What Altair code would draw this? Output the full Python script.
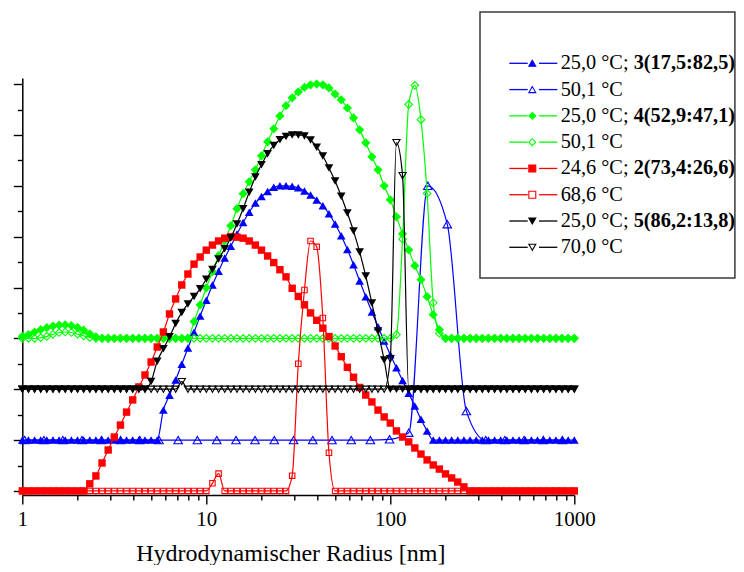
import altair as alt
import pandas as pd

# ---------------- data ----------------
# hydrodynamic radius bins (nm): 30 bins per decade, 1 ... 1000 nm
MANTISSA = [1.000, 1.080, 1.166, 1.259, 1.359, 1.468, 1.585, 1.711, 1.848, 1.995,
            2.154, 2.326, 2.512, 2.712, 2.929, 3.162, 3.415, 3.687, 3.981, 4.299,
            4.642, 5.012, 5.412, 5.843, 6.310, 6.813, 7.356, 7.943, 8.577, 9.261]
RADIUS = [round(m * d, 3) for d in (1, 10, 100) for m in MANTISSA] + [1000.0]

# normalised intensity (% of maximum) on RADIUS bins
BLUE_25 = [0] * 23 + [11.8, 17.6, 23.6, 29.8, 36.2, 42.4, 48.8, 55.0, 61.0, 66.4,
                      71.6, 76.2, 81.0, 85.6, 89.6, 93.2, 95.8, 97.8, 99.4, 100.0,
                      100.0, 99.8, 99.2, 98.0, 96.4, 94.4, 92.2, 89.0, 85.0, 80.4,
                      75.0, 69.0, 62.6, 56.4, 50.4, 44.6, 39.0, 33.6, 28.4, 23.4,
                      18.4, 13.4, 8.2, 3.6] + [0] * 24

GREEN_25 = [0.8, 1.5, 2.5, 3.4, 4.2, 4.8, 5.2, 5.3, 5.0, 4.3, 3.2, 1.8, 0.6] + [0] * 15 + \
           [6.6, 13.2, 19.9, 26.2, 32.5, 38.4, 44.3, 51.0, 56.9, 61.6,
            66.3, 71.8, 77.3, 82.4, 87.5, 91.5, 94.6, 96.9, 98.7, 99.7,
            100.0, 99.7, 98.5, 96.1, 93.8, 90.6, 86.7, 82.0, 76.9, 71.4,
            66.3, 60.0, 54.5, 47.8, 41.1, 34.8, 28.6, 23.1, 16.4, 9.3,
            3.4] + [0] * 22

GREEN_50 = [0, 0, 0, 0.3, 0.8, 1.6, 2.3, 2.5, 2.3, 1.7, 1.0, 0.4] + [0] * 49 + \
           [1.5, 39.0, 92.0, 99.5, 86.0, 57.0, 14.0, 2.0] + [0] * 22

RED_24 = [0] * 11 + [2.8, 5.9, 11.0, 16.1, 21.2, 25.9, 31.0, 35.8, 40.9, 45.6,
                     50.7, 56.6, 62.5, 69.6, 75.5, 81.0, 85.3, 89.2, 92.0, 94.7,
                     96.7, 98.3, 99.4, 100.0, 99.8, 99.4, 98.3, 96.7, 94.7, 92.4,
                     89.8, 87.0, 84.2, 79.7, 76.5, 73.2, 70.0, 67.1, 64.0, 60.7,
                     57.0, 52.8, 48.6, 44.7, 40.7, 37.7, 35.0, 31.8, 29.1, 26.7,
                     23.6, 21.2, 19.3, 16.9, 14.5, 12.2, 10.2, 8.6, 6.7, 5.1,
                     3.5, 1.6] + [0] * 18

RED_68 = [0] * 31 + [3.0, 6.8] + [0] * 11 + [6.0, 50.0, 79.0, 98.3, 96.0, 68.0, 15.0] + [0] * 40

BLACK_25 = [0] * 21 + [3.0, 11.0, 15.9, 20.6, 25.8, 30.2, 33.5, 36.5, 39.5, 43.3,
                       47.1, 51.2, 55.2, 59.5, 65.0, 71.0, 77.5, 83.5, 88.3, 92.6,
                       95.9, 98.1, 99.4, 100.0, 100.0, 99.6, 98.0, 95.2, 91.7, 87.0,
                       81.9, 75.9, 69.3, 62.2, 54.0, 44.5, 33.9, 22.9, 11.5] + [0] * 31

BLACK_70 = [0] * 26 + [3.0] + [0] * 33 + [12.0, 97.0, 84.0] + [0] * 28

# blue 50.1 °C: measured points and its smoothed curve
BLUE_50_R = [1.03, 1.31, 1.66, 2.11, 2.69, 3.42, 4.35, 5.53, 7.03, 8.94, 11.4, 14.5, 18.4,
             23.4, 29.8, 37.9, 48.2, 61.3, 77.9, 99.1, 126.0, 160.0, 204.0, 259.0, 330.0,
             419.0, 533.0, 678.0, 862.0]
BLUE_50 = [0] * 19 + [0.3, 2.9, 100.0, 84.9, 11.4] + [0] * 5
BLUE_50_CURVE_R = [1.0, 106.1, 112.9, 120.2, 128.0, 134.5, 141.4, 148.7, 156.3, 164.4, 170.7,
                   177.2, 186.3, 198.3, 211.1, 224.7, 239.2, 254.7, 271.2, 288.6, 307.3,
                   335.4, 370.7, 1000.0]
BLUE_50_CURVE = [0, 0, 0.8, 2.4, 7.1, 15.7, 29.5, 49.1, 70.0, 84.1, 88.4, 89.2, 87.6, 81.3,
                 69.9, 55.0, 38.1, 23.6, 12.6, 5.9, 2.4, 0.4, 0, 0]

# vertical offsets of the curves (%)
OFFSET_RED = 0
OFFSET_BLUE = 20
OFFSET_BLACK = 40
OFFSET_GREEN = 60

LEGEND_TEXT = ["25,0 °C;", "50,1 °C", "25,0 °C;", "50,1 °C",
               "24,6 °C;", "68,6 °C", "25,0 °C;", "70,0 °C"]
LEGEND_BOLD = ["3(17,5:82,5)", "", "4(52,9:47,1)", "",
               "2(73,4:26,6)", "", "5(86,2:13,8)", ""]

# ---------------- styles ----------------
BLUE, GREEN, RED, BLACK = "#0000ff", "#00ff00", "#ff0000", "#000000"
FONT = "Liberation Serif"

SERIES = [
    dict(r=RADIUS, v=BLUE_25, off=OFFSET_BLUE, color=BLUE, shape="triangle-up", filled=True, size=75),
    dict(r=BLUE_50_R, v=BLUE_50, off=OFFSET_BLUE, color=BLUE, shape="triangle-up", filled=False, size=72),
    dict(r=RADIUS, v=GREEN_25, off=OFFSET_GREEN, color=GREEN, shape="diamond", filled=True, size=85),
    dict(r=RADIUS, v=GREEN_50, off=OFFSET_GREEN, color=GREEN, shape="diamond", filled=False, size=58),
    dict(r=RADIUS, v=RED_24, off=OFFSET_RED, color=RED, shape="square", filled=True, size=55),
    dict(r=RADIUS, v=RED_68, off=OFFSET_RED, color=RED, shape="square", filled=False, size=30),
    dict(r=RADIUS, v=BLACK_25, off=OFFSET_BLACK, color=BLACK, shape="triangle-down", filled=True, size=75),
    dict(r=RADIUS, v=BLACK_70, off=OFFSET_BLACK, color=BLACK, shape="triangle-down", filled=False, size=52),
]

LEG_COLOR = [BLUE, BLUE, GREEN, GREEN, RED, RED, BLACK, BLACK]
LEG_SHAPE = ["triangle-up", "triangle-up", "diamond", "diamond",
             "square", "square", "triangle-down", "triangle-down"]
LEG_FILL = [BLUE, "white", GREEN, "white", RED, "white", BLACK, "white"]
LEG_FONT_SIZE = 20.3

X_TICKS = [m * d for d in (1, 10, 100) for m in range(1, 10)] + [1000]
Y_TICKS = list(range(0, 161, 10))

X_SCALE = alt.Scale(type="log", domain=[1, 1000], nice=False)
Y_SCALE = alt.Scale(domain=[-1.6, 162.4], nice=False, zero=False)

X_AXIS = alt.Axis(
    values=X_TICKS,
    labelExpr="datum.value == 1 ? '1' : datum.value == 10 ? '10' : datum.value == 100 ? '100' : datum.value == 1000 ? '1000' : ''",
    tickSize={"condition": {"test": "datum.value == 1 || datum.value == 10 || datum.value == 100 || datum.value == 1000",
                            "value": 9}, "value": 5},
    tickWidth=1.4, tickColor="black", domainColor="black", domainWidth=1.5, grid=False,
    labelFont=FONT, labelFontSize=21, labelColor="black", labelPadding=4,
    labelFlush=False, labelOverlap=False, labelBound=False,
    title="Hydrodynamischer Radius [nm]", titleFont=FONT, titleFontSize=24,
    titleFontWeight="normal", titleColor="black", titleX=268, titleY=65,
    titleAlign="center", titleBaseline="alphabetic",
)
Y_AXIS = alt.Axis(
    values=Y_TICKS, labels=False, title=None, grid=False,
    tickSize={"condition": {"test": "datum.value % 20 == 0", "value": 9}, "value": 5},
    tickWidth=1.4, tickColor="black", domainColor="black", domainWidth=1.5,
)


def xenc():
    return alt.X("x:Q", scale=X_SCALE, axis=X_AXIS)


def yenc():
    return alt.Y("y:Q", scale=Y_SCALE, axis=Y_AXIS)


layers = []
for s in SERIES:
    pts = pd.DataFrame({"x": s["r"], "y": [v + s["off"] for v in s["v"]]})
    if "cr" in s:
        ln = pd.DataFrame({"x": s["cr"], "y": [v + s["off"] for v in s["cv"]]})
    else:
        ln = pts
    layers.append(
        alt.Chart(ln).mark_line(color=s["color"], strokeWidth=1.2, interpolate="monotone")
        .encode(x=xenc(), y=yenc())
    )
    layers.append(
        alt.Chart(pts).mark_point(shape=s["shape"], filled=s["filled"], size=s["size"],
                                  color=s["color"], strokeWidth=1.1, opacity=1)
        .encode(x=xenc(), y=yenc())
    )
main = alt.layer(*layers)

# ---------------- legend ----------------
leg = pd.DataFrame({
    "row": list(range(len(LEGEND_TEXT))),
    "label": LEGEND_TEXT,
    "bold": LEGEND_BOLD,
    "color": LEG_COLOR,
    "shape": LEG_SHAPE,
    "fill": LEG_FILL,
})
ROW = alt.Y("row:Q", scale=alt.Scale(domain=[0, 7], range=[-14.7, 169.3], nice=False, zero=False), axis=None)

box = alt.Chart(pd.DataFrame({"k": [0]})).mark_rect(fill="white", stroke="#3a3a3a", strokeWidth=1.5).encode(
    x=alt.value(457.7), x2=alt.value(712.6), y=alt.value(-66), y2=alt.value(200))
seg_l = alt.Chart(leg).mark_rule(strokeWidth=1.3).encode(
    x=alt.value(487.0), x2=alt.value(505.4), y=ROW, color=alt.Color("color:N", scale=None))
seg_r = alt.Chart(leg).mark_rule(strokeWidth=1.3).encode(
    x=alt.value(516.7), x2=alt.value(535.0), y=ROW, color=alt.Color("color:N", scale=None))
sym = alt.Chart(leg).mark_point(filled=True, opacity=1, size=48, strokeWidth=1.1).encode(
    x=alt.value(510.0), y=ROW,
    shape=alt.Shape("shape:N", scale=None),
    fill=alt.Fill("fill:N", scale=None),
    stroke=alt.Stroke("color:N", scale=None))
txt = alt.Chart(leg).mark_text(align="left", baseline="middle", font=FONT, fontSize=LEG_FONT_SIZE,
                               color="black").encode(
    x=alt.value(538.4), y=ROW, text="label:N")
txt_b = alt.Chart(leg).mark_text(align="left", baseline="middle", font=FONT, fontSize=LEG_FONT_SIZE,
                                 fontWeight="bold", color="black").encode(
    x=alt.value(611.4), y=ROW, text="bold:N")
legend = alt.layer(box, seg_l, seg_r, sym, txt, txt_b)

chart = alt.layer(main, legend).resolve_scale(y="independent").properties(
    width=552, height=417,
    autosize=alt.AutoSizeParams(type="none"),
    padding={"left": 14.3, "top": 70, "right": 161.7, "bottom": 70},
).configure(font=FONT).configure_view(strokeWidth=0)

chart.save("out.html", embed_options={"renderer": "svg", "actions": False})
